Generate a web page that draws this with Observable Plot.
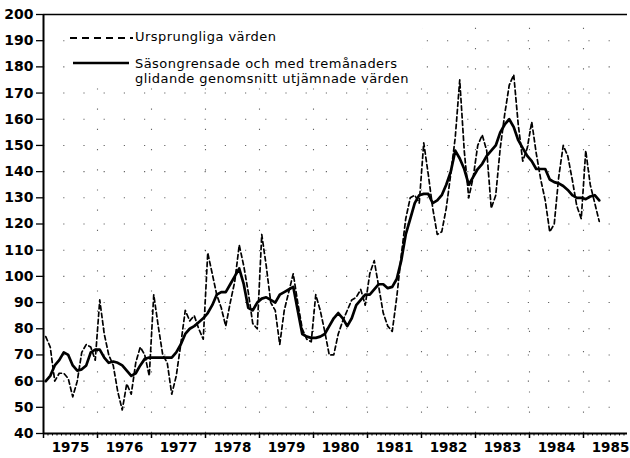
<!DOCTYPE html>
<html>
<head>
<meta charset="utf-8">
<script src="https://cdn.jsdelivr.net/npm/d3@7"></script>
<script src="https://cdn.jsdelivr.net/npm/@observablehq/plot@0.6"></script>
<style>
  html, body { margin: 0; padding: 0; background: #fff; }
  #chart svg { display: block; }
</style>
</head>
<body>
<div id="chart"></div>
<script>
// Monthly series starting January 1975
const startYear = 1975;
const yearLabels = [1975, 1976, 1977, 1978, 1979, 1980, 1981, 1982, 1983, 1984, 1985];
const yTicks = [40, 50, 60, 70, 80, 90, 100, 110, 120, 130, 140, 150, 160, 170, 180, 190, 200];
const gridLevels = [50, 60, 70, 80, 90, 100, 110, 120, 130, 140, 150, 160, 170, 180, 190];

// "Ursprungliga värden" (dashed)
const original = [
  77, 73, 60, 63, 63, 61, 54, 60, 71, 74, 73, 68,          // 1975
  91, 78, 70, 66, 56, 49, 59, 55, 67, 73, 70, 62,          // 1976
  93, 81, 70, 67, 55, 62, 74, 87, 83, 85, 80, 76,          // 1977
  109, 101, 93, 88, 81, 90, 98, 112, 104, 94, 82, 80,      // 1978
  116, 104, 90, 87, 74, 87, 94, 101, 90, 80, 76, 75,       // 1979
  93, 87, 79, 70, 70, 78, 83, 87, 91, 92, 95, 89,          // 1980
  101, 106, 96, 86, 81, 79, 92, 108, 122, 130, 131, 128,   // 1981
  151, 139, 126, 116, 117, 126, 139, 153, 175, 148, 130, 138, // 1982
  150, 154, 148, 126, 131, 149, 162, 173, 177, 158, 144, 149, // 1983
  159, 147, 137, 129, 117, 120, 138, 150, 146, 137, 127, 122, // 1984
  148, 135, 128, 121                                        // 1985
];

// "Säsongrensade och med tremånaders glidande genomsnitt utjämnade värden" (solid)
const smoothed = [
  60, 62, 66, 68, 71, 70, 66, 64, 64.5, 66, 71, 72,          // 1975
  72, 69, 67, 67.5, 67, 66, 64, 62, 63, 66, 68.5, 69,        // 1976
  69, 69, 69, 69, 69, 71, 74, 78, 80, 81, 82.5, 84,          // 1977
  86, 89, 93, 94, 94, 97, 100, 103, 97, 88, 87, 90,          // 1978
  91.5, 92, 91, 90, 93, 94, 95, 96, 87, 78, 77, 76.5,        // 1979
  76.5, 77, 78, 81, 84, 86, 84, 81, 84, 89, 91, 93,          // 1980
  93, 95, 97, 97, 95.5, 96, 99, 106, 116, 122, 128, 131,     // 1981
  131.5, 131.5, 128, 129, 131, 135, 140, 148, 145, 141, 135, 138, // 1982
  141, 143, 146, 148, 150, 155, 158, 160, 157, 152, 149, 146, // 1983
  144, 141, 141, 141, 137, 136, 135.5, 134.5, 133, 131, 130, 130, // 1984
  129.5, 130.5, 131, 129                                      // 1985
];

const toT = i => startYear + (i + 0.5) / 12;
const origData = original.map((v, i) => ({t: toT(i), v}));
const smoothData = smoothed.map((v, i) => ({t: toT(i), v}));

const yearBounds = yearLabels.map(y => y);            // major ticks at year starts
const yearMids = yearLabels.map(y => y + 0.5);         // labels centred in each year
const monthTicks = d3.range(0, 12 * 11).map(i => startYear + i / 12).filter(t => t <= 1985.8);
const xEnd = 1985.815;

const chart = Plot.plot({
  width: 630,
  height: 458,
  marginLeft: 43,
  marginRight: 3,
  marginTop: 14,
  marginBottom: 25,
  x: {domain: [startYear, xEnd], axis: null, label: null},
  y: {domain: [40, 200], axis: null, label: null},
  style: {fontFamily: "'DejaVu Sans', sans-serif", background: "#fff", color: "#000", overflow: "visible"},
  marks: [
    // sparse dotted grid
    Plot.ruleY(gridLevels, {stroke: "#000", strokeWidth: 1.1, strokeDasharray: "1.2,19", strokeOpacity: 0.6}),
    Plot.ruleX(yearBounds.filter(d => d > startYear), {y1: 40, y2: 200, stroke: "#000", strokeWidth: 1.1, strokeDasharray: "1.2,19", strokeOpacity: 0.6}),
    // data
    Plot.line(origData, {x: "t", y: "v", stroke: "#000", strokeWidth: 1.7, strokeDasharray: "4.5,3"}),
    Plot.line(smoothData, {x: "t", y: "v", stroke: "#000", strokeWidth: 2.7, strokeLinejoin: "round"}),
    // frame lines
    Plot.ruleY([40], {stroke: "#000", strokeWidth: 2}),
    Plot.ruleY([200], {stroke: "#000", strokeWidth: 1.5}),
    Plot.ruleX([startYear], {stroke: "#000", strokeWidth: 2}),
    // y axis
    Plot.axisY(yTicks, {anchor: "left", label: null, tickSize: 7, tickPadding: 3, fontSize: 14, fontWeight: "bold", strokeWidth: 1.3}),
    // x axis: month minor ticks, year major ticks, centred labels
    Plot.axisX(monthTicks, {anchor: "bottom", label: null, tickSize: 2.5, text: null, strokeWidth: 1}),
    Plot.axisX(yearBounds, {anchor: "bottom", label: null, tickSize: 5, text: null, strokeWidth: 1.5}),
    Plot.axisX(yearMids, {anchor: "bottom", label: null, tickSize: 0, tickPadding: 9, fontSize: 13.5, fontWeight: "bold", tickFormat: d => String(Math.floor(d))})
  ]
});

document.getElementById("chart").appendChild(chart);

// Legend (inside the plot, top-left)
const svg = d3.select(chart);
const lg = svg.append("g")
  .attr("font-family", "'DejaVu Sans', sans-serif")
  .attr("font-size", 13)
  .attr("text-anchor", "start")
  .attr("letter-spacing", "0.45px");
lg.append("rect").attr("x", 66).attr("y", 24).attr("width", 356).attr("height", 62).attr("fill", "#fff");
lg.append("line").attr("x1", 70).attr("x2", 133).attr("y1", 38).attr("y2", 38)
  .attr("stroke", "#000").attr("stroke-width", 1.8).attr("stroke-dasharray", "7,5");
lg.append("text").attr("x", 135).attr("y", 41).text("Ursprungliga värden");
lg.append("line").attr("x1", 73).attr("x2", 129).attr("y1", 63).attr("y2", 63)
  .attr("stroke", "#000").attr("stroke-width", 2.5);
lg.append("text").attr("x", 135).attr("y", 67.5).text("Säsongrensade och med tremånaders");
lg.append("text").attr("x", 135).attr("y", 82.5).text("glidande genomsnitt utjämnade värden");
</script>
</body>
</html>
